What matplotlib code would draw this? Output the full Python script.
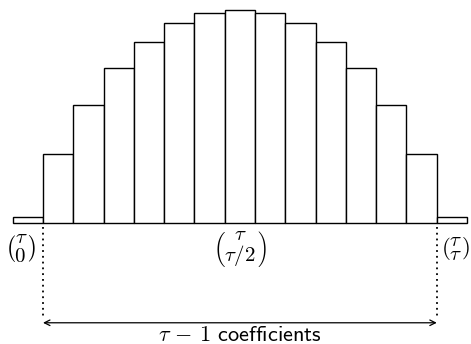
import matplotlib.pyplot as plt

plt.rcParams['mathtext.fontset'] = 'cm'

# coefficient index k = 0..tau and bar heights (log scale of binomial coefficients)
k = list(range(15))
heights = [0.23, 2.64, 4.51, 5.90, 6.91, 7.63, 8.02, 8.14,
           8.02, 7.63, 6.91, 5.90, 4.51, 2.64, 0.23]
end_labels = [r'$\genfrac{(}{)}{0}{0}{\tau}{0}$',
              r'$\genfrac{(}{)}{0}{0}{\tau}{\tau/2}$',
              r'$\genfrac{(}{)}{0}{0}{\tau}{\tau}$']
label_pos = [0, 7, 14]
span_text = r'$\tau\,-\,1$ $\mathsf{coefficients}$'

fig = plt.figure(figsize=(4.71, 3.44), dpi=100)
ax = fig.add_axes([0, 0, 1, 1])

ax.bar(k, heights, width=1.0, color='white', edgecolor='black', linewidth=1.0)

# labels under the first, middle and last bar (outer ones pushed outwards a bit)
shifts = [-0.23, 0.0, 0.12]
for pos, lab, dx in zip(label_pos, end_labels, shifts):
    ax.text(pos + dx, -1.0, lab, ha='center', va='center', fontsize=15)

# dotted guides at the edges of the inner coefficients
for xe in [0.5, 13.5]:
    ax.plot([xe, xe], [-0.15, -3.55], color='black', linestyle=(0, (1, 2.2)), linewidth=1.3)

# double arrow spanning the inner coefficients
ax.annotate('', xy=(0.5, -3.81), xytext=(13.5, -3.81),
            arrowprops=dict(arrowstyle='<->', color='black', linewidth=0.9,
                            shrinkA=0, shrinkB=0))
ax.text(7, -4.5, span_text, ha='center', va='baseline', fontsize=16)

ax.set_xlim(-0.92, 14.63)
ax.set_ylim(-4.62, 8.51)
ax.axis('off')

fig.savefig('out.png', dpi=100)
